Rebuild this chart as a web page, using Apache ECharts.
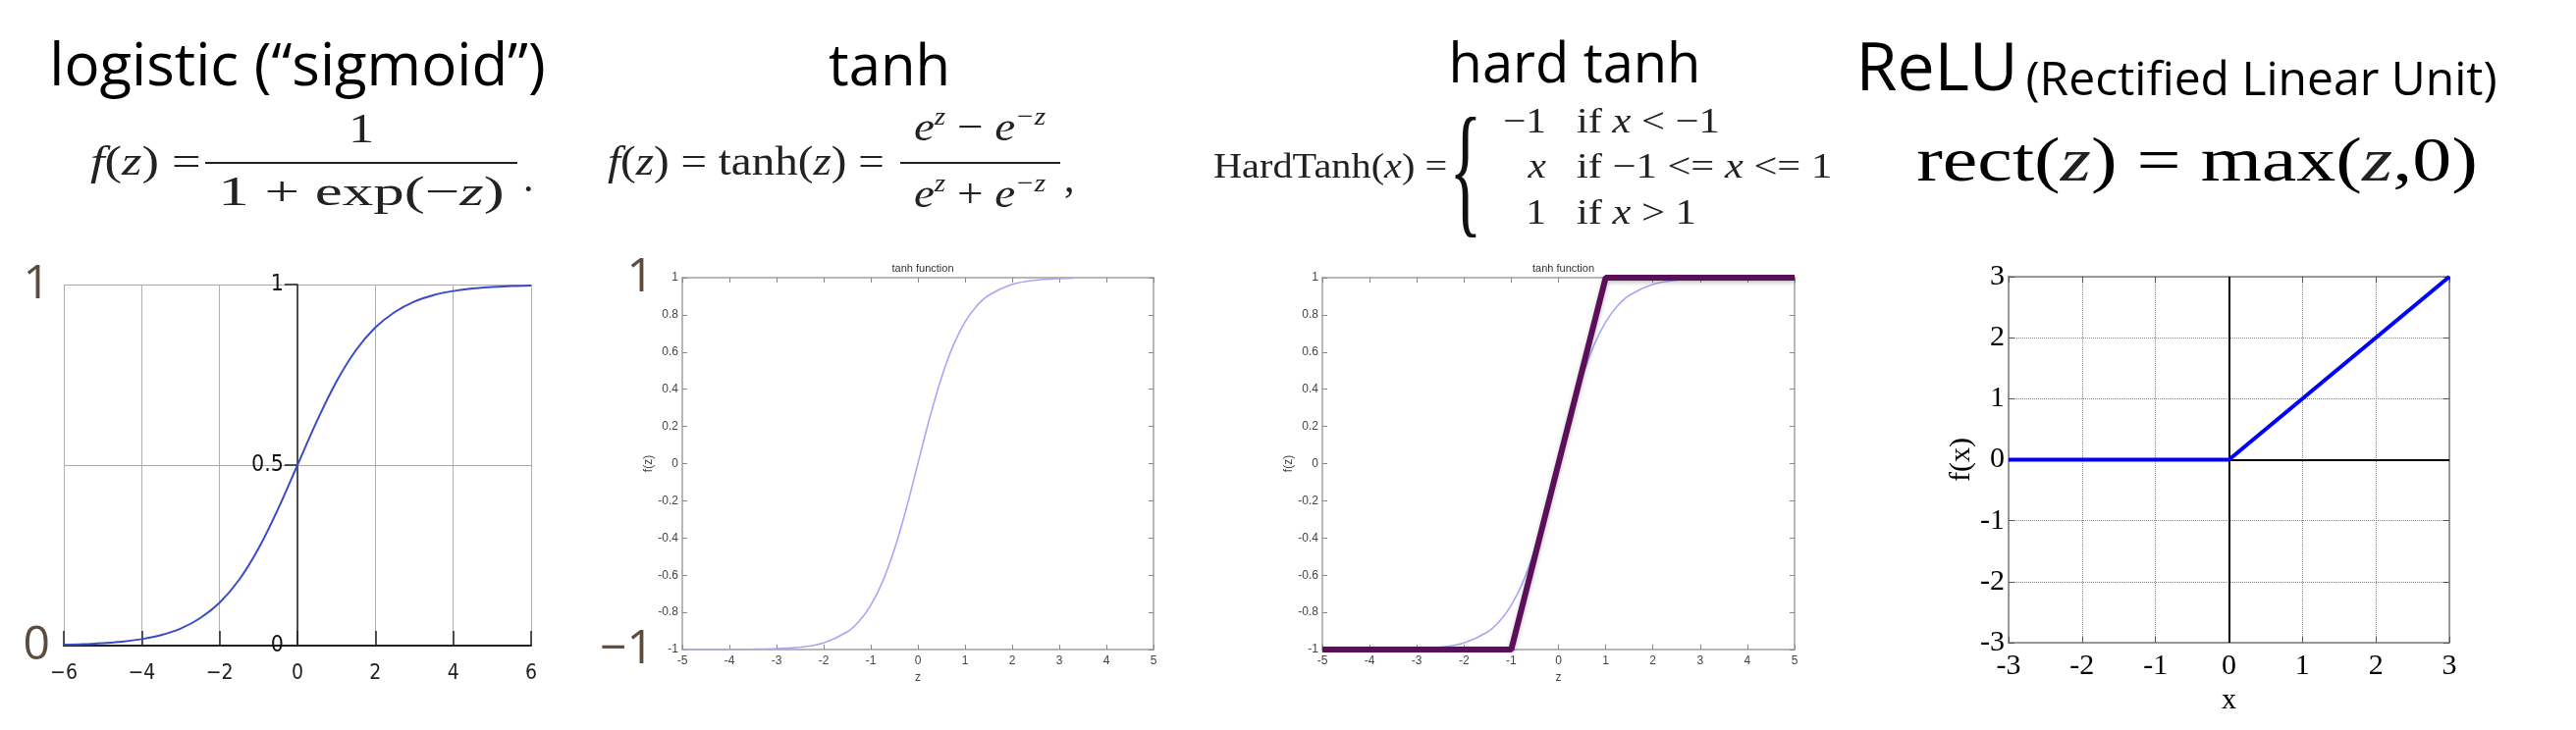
<!DOCTYPE html>
<html><head><meta charset="utf-8">
<script src="https://cdn.jsdelivr.net/npm/echarts@6/dist/echarts.min.js"></script>
<style>html,body{margin:0;padding:0;background:#fff}#c{width:2624px;height:744px}</style>
</head><body><div id="c"></div>
<script>
// ---- data ----
const panelTitles = ['logistic (\u201csigmoid\u201d)', 'tanh', 'hard tanh', 'ReLU', '(Rectified Linear Unit)'];
const plotTitles = ['tanh function', 'tanh function'];
const logisticX = [-6,-5.5,-5,-4.5,-4,-3.5,-3,-2.5,-2,-1.5,-1,-0.5,0,0.5,1,1.5,2,2.5,3,3.5,4,4.5,5,5.5,6];
const logisticY = [0.0025,0.004,0.007,0.011,0.018,0.029,0.047,0.076,0.119,0.182,0.269,0.378,0.5,0.622,0.731,0.818,0.881,0.924,0.953,0.971,0.982,0.989,0.993,0.996,0.9975];
const tanhX = [-5,-4.5,-4,-3.5,-3,-2.5,-2,-1.5,-1.25,-1,-0.75,-0.5,-0.25,0,0.25,0.5,0.75,1,1.25,1.5,2,2.5,3,3.3];
const tanhY = [-0.9999,-0.9998,-0.9993,-0.998,-0.995,-0.987,-0.964,-0.905,-0.848,-0.762,-0.635,-0.462,-0.245,0,0.245,0.462,0.635,0.762,0.848,0.905,0.964,0.987,0.995,0.997];
const tanhFullX = [-5,-4.5,-4,-3.5,-3,-2.5,-2,-1.5,-1.25,-1,-0.75,-0.5,-0.25,0,0.25,0.5,0.75,1,1.25,1.5,2,2.5,3,3.5,4,4.5,5];
const tanhFullY = [-0.9999,-0.9998,-0.9993,-0.998,-0.995,-0.987,-0.964,-0.905,-0.848,-0.762,-0.635,-0.462,-0.245,0,0.245,0.462,0.635,0.762,0.848,0.905,0.964,0.987,0.995,0.998,0.9993,0.9998,0.9999];
const hardTanhX = [-5,-1,1,5];
const hardTanhY = [-1,-1,1,1];
const reluX = [-3,0,3];
const reluY = [0,0,3];

const zip = (xs, ys) => xs.map((x,i)=>[x, ys[i]]);
const minus = v => v < 0 ? '\u2212' + (-v) : String(v);

const chart = echarts.init(document.getElementById('c'), null, {renderer:'canvas'});

const SANS = "'Open Sans', sans-serif";
const COND = "'DejaVu Sans Condensed', 'DejaVu Sans', sans-serif";
const SERIF = "'Liberation Serif', 'Times New Roman', serif";
const SMALL = "'Liberation Sans', Arial, sans-serif";
const BROWN = '#5b4c3e';

const grids = [
  {left:65, top:290, width:476, height:368},
  {left:695, top:283, width:480, height:379},
  {left:1347, top:283, width:481, height:379},
  {left:2046, top:282, width:449, height:373}
];

function frameX(g, min, max, pos, labels, name){
  return {gridIndex:g, type:'value', min, max, interval:1, position:pos,
    axisLine:{onZero:false, lineStyle:{color:'#a0a0a0', width:1.5}},
    axisTick:{inside:true, length:5, lineStyle:{color:'#888'}},
    axisLabel:{show:labels, fontSize:12, color:'#444', margin:6, fontFamily:SMALL},
    splitLine:{show:false},
    name: labels ? name : '', nameLocation:'middle', nameGap:21,
    nameTextStyle:{fontSize:12, color:'#444', fontFamily:SMALL}};
}
function frameY(g, pos, labels){
  return {gridIndex:g, type:'value', min:-1, max:1, interval:0.2, position:pos,
    axisLine:{onZero:false, lineStyle:{color:'#a0a0a0', width:1.5}},
    axisTick:{inside:true, length:5, lineStyle:{color:'#888'}},
    axisLabel:{show:labels, fontSize:12, color:'#444', margin:4, fontFamily:SMALL},
    splitLine:{show:false},
    name: labels ? 'f(z)' : '', nameLocation:'middle', nameGap:26, nameRotate:90,
    nameTextStyle:{fontSize:12, color:'#444', fontFamily:SMALL}};
}
function bigY(g, min, max, interval, margin){
  return {gridIndex:g, type:'value', min, max, interval, position:'left',
    axisLine:{show:false, onZero:false}, axisTick:{show:false}, splitLine:{show:false},
    axisLabel:{fontSize:48, color:BROWN, fontFamily:SANS, margin, formatter:minus}};
}
function reluAxis(g, dim, pos, labels){
  const a = {gridIndex:g, type:'value', min:-3, max:3, interval:1, position:pos,
    axisLine:{onZero:false, lineStyle:{color:'#808080', width:1.5}},
    axisTick:{inside:true, length:6, lineStyle:{color:'#555'}},
    axisLabel:{show:labels, fontSize:30, color:'#000', fontFamily:SERIF, margin: dim==='x'?9:4},
    splitLine:{show:labels, lineStyle:{color:'#888', type:'dotted', width:1}}};
  if (labels){
    a.name = dim==='x' ? 'x' : 'f(x)';
    a.nameLocation = 'middle';
    a.nameGap = dim==='x' ? 38 : 30;
    if (dim==='y') a.nameRotate = 90;
    a.nameTextStyle = {fontSize:30, color:'#000', fontFamily:SERIF};
  }
  return a;
}

// logistic vertical axis sits on z = 0
const logMin = -6, logMax = 6;
const zeroOffset = -grids[0].width * (0 - logMin) / (logMax - logMin);

const xAxis = [
  {gridIndex:0, type:'value', min:logMin, max:logMax, interval:2,
    axisLine:{onZero:false, lineStyle:{color:'#222', width:2}},
    axisTick:{inside:true, length:15, lineStyle:{color:'#222', width:1.5}},
    axisLabel:{fontSize:21, color:'#222', fontFamily:COND, margin:18, formatter:minus},
    splitLine:{show:true, lineStyle:{color:'#b0b0b0', width:1}}},
  frameX(1,-5,5,'bottom',true,'z'),
  frameX(1,-5,5,'top',false,''),
  frameX(2,-5,5,'bottom',true,'z'),
  frameX(2,-5,5,'top',false,''),
  reluAxis(3,'x','bottom',true),
  reluAxis(3,'x','top',false)
];
const yAxis = [
  {gridIndex:0, type:'value', min:0, max:1, interval:0.5, position:'left', offset:zeroOffset,
    axisLine:{onZero:false, lineStyle:{color:'#222', width:1.5}},
    axisTick:{show:true, inside:false, length:13, lineStyle:{color:'#222', width:1.5}},
    axisLabel:{fontSize:23, color:'#111', fontFamily:COND, margin:14},
    splitLine:{show:true, lineStyle:{color:'#a8a8a8', width:1}}},
  bigY(0,0,1,1,14),
  frameY(1,'left',true),
  frameY(1,'right',false),
  bigY(1,-1,1,2,29),
  frameY(2,'left',true),
  frameY(2,'right',false),
  reluAxis(3,'y','left',true),
  reluAxis(3,'y','right',false)
];

const series = [
  {type:'line', xAxisIndex:0, yAxisIndex:0, data:zip(logisticX, logisticY), showSymbol:false, smooth:0.35,
    lineStyle:{color:'#3b4ac6', width:2}, z:5},
  {type:'line', xAxisIndex:1, yAxisIndex:2, data:zip(tanhX, tanhY), showSymbol:false, smooth:0.35,
    lineStyle:{color:'#a7a7f4', width:1.6}, z:5},
  {type:'line', xAxisIndex:3, yAxisIndex:5, data:zip(tanhFullX, tanhFullY), showSymbol:false, smooth:0.35,
    lineStyle:{color:'#a7a7f4', width:1.6}, z:4},
  {type:'line', xAxisIndex:3, yAxisIndex:5, data:zip(hardTanhX, hardTanhY), showSymbol:false,
    lineStyle:{color:'#5a0f58', width:6, shadowColor:'rgba(0,0,0,0.25)', shadowBlur:4, shadowOffsetY:2}, z:6},
  {type:'line', xAxisIndex:5, yAxisIndex:7, data:[], showSymbol:false, z:2,
    markLine:{silent:true, symbol:'none', label:{show:false}, animation:false,
      lineStyle:{color:'#000', width:2, type:'solid'}, data:[{xAxis:0},{yAxis:0}]}},
  {type:'line', xAxisIndex:5, yAxisIndex:7, data:zip(reluX, reluY), showSymbol:false,
    lineStyle:{color:'#0000ff', width:4}, z:6}
];

const title = [
  {text:plotTitles[0], left:grids[1].left + grids[1].width/2, top:263, textAlign:'center',
    textStyle:{fontSize:11, fontWeight:'normal', color:'#333', fontFamily:SMALL}},
  {text:plotTitles[1], left:grids[2].left + grids[2].width/2, top:263, textAlign:'center',
    textStyle:{fontSize:11, fontWeight:'normal', color:'#333', fontFamily:SMALL}}
];

const richMath = (size) => ({
  i:{fontStyle:'italic', fontSize:size, fontFamily:SERIF, fill:'#222', lineHeight:size+8},
  s:{fontStyle:'italic', fontSize:Math.round(size*0.62), fontFamily:SERIF, fill:'#222', verticalAlign:'top', lineHeight:Math.round(size*0.62)}
});
function T(x, y, text, size, opts){
  opts = opts || {};
  return {type:'text', x, y, silent:true, scaleX:opts.sx || 1, scaleY:opts.sy || 1, style:{
    text, fontSize:size, fontFamily:opts.font || SERIF, fill:opts.fill || '#222',
    align:opts.align || 'left', verticalAlign:'middle', lineHeight:size+8,
    rich: richMath(size)}};
}
function bar(x1, x2, y){
  return {type:'line', silent:true, shape:{x1, y1:y, x2, y2:y}, style:{stroke:'#222', lineWidth:2}};
}

const FM = 42;
const graphics = [
  // panel titles
  T(303, 70, panelTitles[0], 60, {font:SANS, fill:'#000', align:'center'}),
  T(906, 70, panelTitles[1], 58, {font:SANS, fill:'#000', align:'center'}),
  T(1604, 68, panelTitles[2], 56, {font:SANS, fill:'#000', align:'center'}),
  {type:'text', x:2217, y:68, silent:true, style:{
    text:'{a|' + panelTitles[3] + '}{g| }{b|' + panelTitles[4] + '}',
    align:'center', verticalAlign:'middle', fill:'#000',
    rich:{a:{fontSize:68, fontFamily:SANS, fill:'#000', verticalAlign:'bottom', lineHeight:78},
          g:{fontSize:30, fontFamily:SANS, verticalAlign:'bottom', lineHeight:60},
          b:{fontSize:48, fontFamily:SANS, fill:'#000', verticalAlign:'bottom', lineHeight:71}}}},
  // logistic formula
  T(92, 167, '{i|f}({i|z}) =', FM, {sx:1.25}),
  T(368, 134, '1', FM, {align:'center', sx:1.25}),
  bar(209, 527, 166),
  T(368, 198, '1 + exp(\u2212{i|z})', FM, {align:'center', sx:1.5}),
  T(533, 184, '.', FM),
  // tanh formula
  T(619, 167, '{i|f}({i|z}) = tanh({i|z}) =', FM, {sx:1.12}),
  T(998, 132, '{i|e}{s|z} \u2212 {i|e}{s|\u2212z}', FM, {align:'center', sx:1.12}),
  bar(917, 1080, 166),
  T(998, 200, '{i|e}{s|z} + {i|e}{s|\u2212z}', FM, {align:'center', sx:1.12}),
  T(1084, 184, ',', FM),
  // hard tanh formula
  T(1236, 172, 'HardTanh({i|x}) =', 36, {sx:1.12}),
  T(1493, 183, '{', 112, {align:'center', fill:'#111', sx:0.62, sy:1.33}),
  T(1575, 126, '\u22121', 36, {align:'right', sx:1.15}),
  T(1606, 126, 'if {i|x} < \u22121', 36, {sx:1.18}),
  T(1575, 172, '{i|x}', 36, {align:'right', sx:1.15}),
  T(1606, 172, 'if \u22121 <= {i|x} <= 1', 36, {sx:1.18}),
  T(1575, 219, '1', 36, {align:'right', sx:1.15}),
  T(1606, 219, 'if {i|x} > 1', 36, {sx:1.18}),
  // relu formula
  T(2238, 167, 'rect({i|z}) = max({i|z},0)', 64, {align:'center', fill:'#000', sx:1.25})
];

chart.setOption({
  animation:false,
  backgroundColor:'#fff',
  title, grid:grids, xAxis, yAxis, series,
  graphic:{elements:graphics}
});
</script></body></html>
